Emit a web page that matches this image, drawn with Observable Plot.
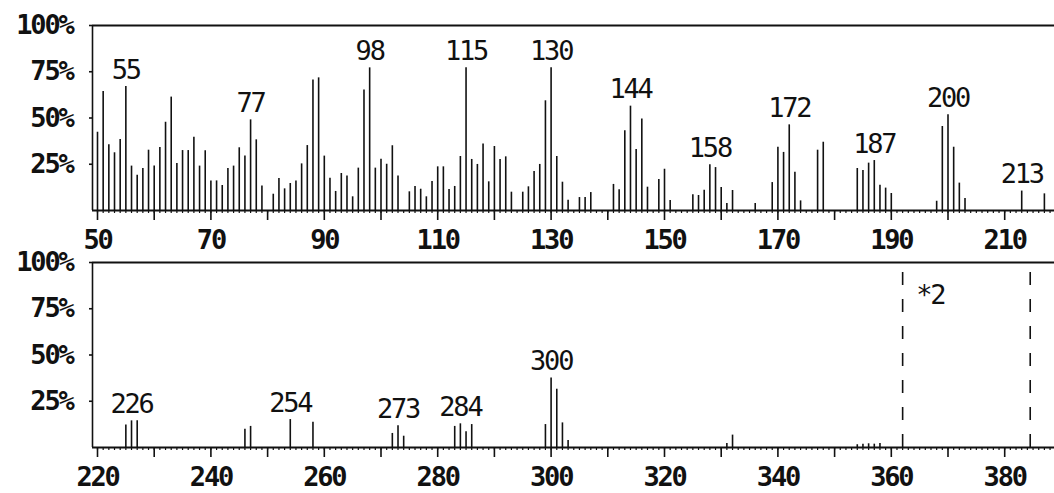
<!DOCTYPE html>
<html><head><meta charset="utf-8">
<script src="https://cdn.jsdelivr.net/npm/d3@7"></script>
<script src="https://cdn.jsdelivr.net/npm/@observablehq/plot@0.6"></script>
<style>
html,body{margin:0;padding:0;background:#fff;}
#chart > svg{display:block;}
</style></head><body><div id="chart"></div>
<script>
// ---- data (m/z and relative intensity %) ----
const topMz = [50,51,52,53,54,55,56,57,58,59,60,61,62,63,64,65,66,67,68,69,70,71,72,73,74,75,76,77,78,79,
  81,82,83,84,85,86,87,88,89,90,91,92,93,94,95,96,97,98,99,100,101,102,103,105,106,107,108,109,110,111,
  112,113,114,115,116,117,118,119,120,121,122,123,125,126,127,128,129,130,131,132,133,135,136,137,141,142,
  143,144,145,146,147,149,150,151,155,156,157,158,159,160,161,162,166,169,170,171,172,173,174,177,178,
  184,185,186,187,188,189,190,198,199,200,201,202,203,213,217];
const topIntensity = [42.3,64.3,35.5,31.2,38.4,67.0,24.0,19.1,22.7,32.6,24.0,34.1,47.7,61.3,25.4,32.4,32.4,39.6,24.0,32.3,16.0,16.0,13.5,22.7,24.0,33.9,29.4,49.0,38.2,13.3,
  8.8,17.3,11.7,14.6,16.0,25.2,35.1,70.6,71.7,29.4,17.4,10.3,20.0,18.7,7.4,22.9,65.2,77.1,22.9,27.7,25.0,35.0,18.6,10.1,13.0,11.5,7.4,15.7,23.6,23.6,
  11.4,13.0,29.2,77.1,27.6,24.9,36.0,15.5,34.6,27.6,29.0,9.9,9.9,12.8,21.1,24.9,59.3,77.1,29.2,15.3,5.6,7.0,7.0,9.7,14.1,11.2,
  43.1,56.4,33.0,49.5,12.6,16.8,22.3,5.4,8.5,8.1,11.0,24.7,23.2,12.4,3.8,10.8,3.8,15.1,34.2,31.4,46.3,20.7,5.2,32.6,36.9,
  22.7,21.6,25.6,27.0,13.7,12.1,9.2,5.0,45.4,51.7,34.2,14.8,6.5,10.5,9.0];
const bottomMz = [225,226,227,246,247,254,258,272,273,274,283,284,285,286,299,300,301,302,303,331,332,354,355,356,357,358];
const bottomIntensity = [12.1,14.4,14.4,9.9,11.4,15.1,13.7,7.6,11.7,6.1,11.4,12.8,8.5,12.4,12.4,37.6,31.5,13.3,3.8,2.2,6.7,1.5,1.8,2.0,1.8,2.2];
const topPeakLabels = [55,77,98,115,130,144,158,172,187,200,213];
const bottomPeakLabels = [226,254,273,284,300];
const yTickValues = [25,50,75,100];
const topXTickLabels = [50,70,90,110,130,150,170,190,210];
const bottomXTickLabels = [220,240,260,280,300,320,340,360,380];
const magnifiedRange = [362,384.5];
const magnifiedText = "*2";

const FONT = "'DejaVu Sans Mono', monospace";

function panel({mz, intensity, labels, xLabels, height, marginTop, marginBottom, extra = []}) {
  const x0 = xLabels[0];
  const domain = [x0 - 5/5.67, x0 + 957/5.67];
  const data = mz.map((m, i) => ({mz: m, intensity: intensity[i]}));
  const lookup = new Map(data.map(d => [d.mz, d.intensity]));
  const labelData = labels.map(m => ({mz: m, intensity: lookup.get(m), text: String(m)}));
  const minor = d3.range(Math.ceil(domain[0]), domain[1], 1);
  const major = d3.range(x0, domain[1], 10);
  return Plot.plot({
    width: 1054, height, marginLeft: 92, marginRight: 0, marginTop, marginBottom,
    style: {fontFamily: FONT, fontSize: "27px", letterSpacing: "-2.2px", color: "#111",
            background: "transparent", overflow: "visible", width: "1054px", height: height + "px", maxWidth: "none"},
    x: {domain, label: null},
    y: {domain: [0, 100], label: null},
    marks: [
      Plot.ruleY([100], {stroke: "#111", strokeWidth: 2.2}),
      Plot.ruleX([domain[0]], {y1: 0, y2: 100, stroke: "#111", strokeWidth: 1.6}),
      Plot.ruleY([0], {stroke: "#111", strokeWidth: 1.8}),
      Plot.axisY(yTickValues, {label: null, tickSize: 3, tickPadding: 17, tickFormat: d => d + "%", fontWeight: "bold", strokeWidth: 1.6}),
      Plot.axisX(minor, {label: null, tickSize: 3, tickFormat: () => "", strokeWidth: 1.2}),
      Plot.axisX(major, {label: null, tickSize: 10, tickFormat: () => "", strokeWidth: 1.6}),
      Plot.axisX(xLabels, {label: null, tickSize: 0, tickPadding: 19, fontWeight: "bold"}),
      Plot.ruleX(data, {x: "mz", y1: 0, y2: "intensity", stroke: "#111", strokeWidth: 1.6}),
      Plot.text(labelData, {x: "mz", y: "intensity", text: "text", dy: -8, lineAnchor: "bottom", fill: "#111"}),
      ...extra
    ]
  });
}

const topPanel = panel({
  mz: topMz, intensity: topIntensity, labels: topPeakLabels, xLabels: topXTickLabels,
  height: 252, marginTop: 25, marginBottom: 42
});
const bottomPanel = panel({
  mz: bottomMz, intensity: bottomIntensity, labels: bottomPeakLabels, xLabels: bottomXTickLabels,
  height: 241, marginTop: 10, marginBottom: 46,
  extra: [
    Plot.ruleX(magnifiedRange, {y1: 0, y2: 96, stroke: "#111", strokeWidth: 1.6, strokeDasharray: "13,14"}),
    Plot.text([magnifiedText], {x: magnifiedRange[0] + 2.4, y: 82, text: d => d, textAnchor: "start", lineAnchor: "middle", fill: "#111"})
  ]
});

const outer = d3.create("svg")
  .attr("width", 1054).attr("height", 493)
  .attr("viewBox", "0 0 1054 493")
  .style("background", "#fff");
topPanel.setAttribute("x", 0);
topPanel.setAttribute("y", 0);
bottomPanel.setAttribute("x", 0);
bottomPanel.setAttribute("y", 252);
outer.node().append(topPanel, bottomPanel);
document.getElementById("chart").append(outer.node());
</script></body></html>
